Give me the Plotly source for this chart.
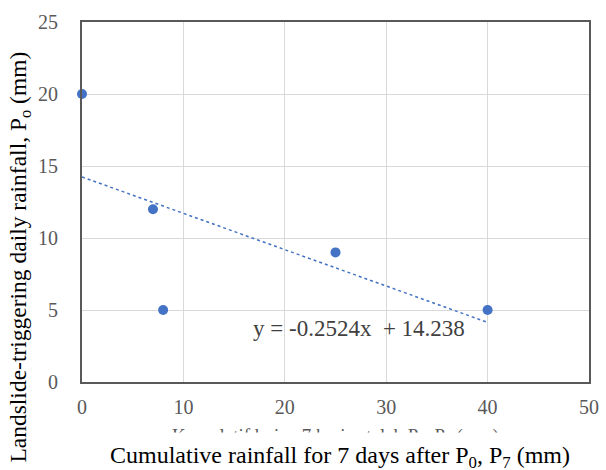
import plotly.graph_objects as go

# Data
x_vals = [0, 7, 8, 25, 40]
y_vals = [20, 12, 5, 9, 5]
slope = -0.2524
intercept = 14.238
trend_x = [0, 40]
trend_y = [slope * v + intercept for v in trend_x]
x_ticks = [0, 10, 20, 30, 40, 50]
y_ticks = [0, 5, 10, 15, 20, 25]

font_family = "Liberation Serif, Times New Roman, serif"
blue = "#4472C4"

fig = go.Figure()
fig.add_trace(go.Scatter(
    x=trend_x, y=trend_y, mode="lines",
    line=dict(color=blue, width=1.5, dash="dot"),
    hoverinfo="skip", showlegend=False,
))
fig.add_trace(go.Scatter(
    x=x_vals, y=y_vals, mode="markers",
    marker=dict(color=blue, size=10),
    cliponaxis=False, showlegend=False,
))

axis_common = dict(
    showgrid=True, gridcolor="#D9D9D9", gridwidth=1,
    showline=True, linecolor="#595959", linewidth=2, mirror=True,
    zeroline=False, ticks="", automargin=False,
    tickfont=dict(family=font_family, size=20, color="#595959"),
)
fig.update_xaxes(range=[0, 50], tickvals=x_ticks, ticklabelstandoff=6, **axis_common)
fig.update_yaxes(range=[0, 25], tickvals=y_ticks, ticklabelstandoff=18, **axis_common)

annotations = [
    dict(
        text="Kumulatif hujan 7 hari setelah P<sub>0</sub>, P<sub>7</sub> (mm)",
        xref="paper", yref="paper", x=0.50, y=-0.152,
        xanchor="center", yanchor="middle", showarrow=False,
        font=dict(family=font_family, size=19, color="#595959"),
    ),
    dict(
        text="Cumulative rainfall for 7 days after P<sub>0</sub>, P<sub>7</sub> (mm)",
        xref="paper", yref="paper", x=0.509, y=-0.208,
        xanchor="center", yanchor="middle", showarrow=False,
        bgcolor="white", borderpad=9,
        font=dict(family=font_family, size=24, color="black"),
    ),
    dict(
        text="Landslide-triggering daily rainfall, P<sub>o</sub> (mm)",
        xref="paper", yref="paper", x=-0.122, y=0.346,
        xanchor="center", yanchor="middle", showarrow=False, textangle=-90,
        font=dict(family=font_family, size=23.5, color="black"),
    ),
    dict(
        text="y = -0.2524x\u00a0 + 14.238",
        xref="x", yref="y", x=27.3, y=3.75,
        xanchor="center", yanchor="middle", showarrow=False,
        font=dict(family=font_family, size=23, color="#404040"),
    ),
]

fig.update_layout(
    width=606, height=470,
    margin=dict(l=82, r=17, t=22, b=88, autoexpand=False),
    plot_bgcolor="white", paper_bgcolor="white",
    annotations=annotations,
    showlegend=False,
)

fig.write_html(
    "out.html",
    config={"displayModeBar": False},
    post_script="document.body.style.margin='0';",
)
